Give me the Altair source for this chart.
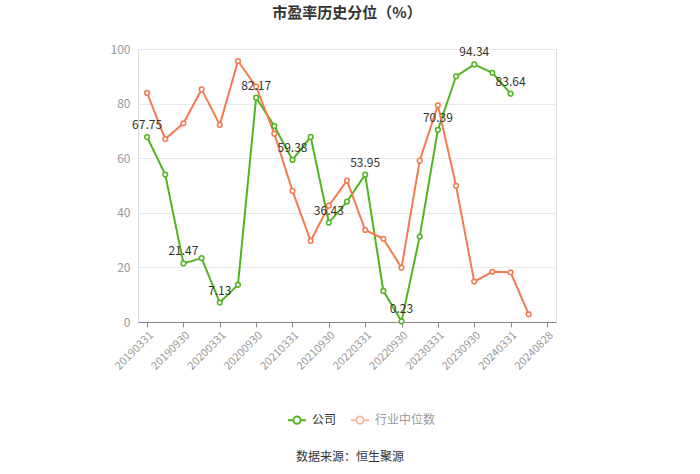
import altair as alt
import pandas as pd

dates = ["20190331", "20190630", "20190930", "20191231", "20200331", "20200630",
         "20200930", "20201231", "20210331", "20210630", "20210930", "20211231",
         "20220331", "20220630", "20220930", "20221231", "20230331", "20230630",
         "20230930", "20231231", "20240331", "20240630", "20240828"]
company = [67.75, 54.0, 21.47, 23.4, 7.13, 13.6, 82.17, 71.8, 59.38, 67.8, 36.43, 44.1,
           53.95, 11.4, 0.23, 31.3, 70.39, 90.0, 94.34, 91.3, 83.64, None, None]
industry = [83.9, 67.0, 72.8, 85.2, 72.2, 95.6, 86.2, 69.0, 48.0, 29.7, 42.6, 51.8,
            33.7, 30.5, 19.9, 59.1, 79.4, 49.9, 14.8, 18.4, 18.2, 2.8, None]
series_names = ["公司", "行业中位数"]
series_colors = ["#52b41f", "#f47a50"]
axis_dates = dates[0::2]
label_idx = list(range(0, 21, 2))

rows = []
for i, d in enumerate(dates):
    rows.append({"date": d, "series": "公司", "value": company[i]})
    rows.append({"date": d, "series": "行业中位数", "value": industry[i]})
df = pd.DataFrame(rows)
df = df.dropna(subset=["value"])

lab = pd.DataFrame({"date": [dates[i] for i in label_idx],
                    "value": [company[i] for i in label_idx]})

FONT = "Noto Sans CJK SC"

x_enc = alt.X("date:O", sort=dates,
              scale=alt.Scale(type="point", domain=dates, padding=0.5),
              axis=alt.Axis(title=None, values=axis_dates, labelAngle=-45,
                            labelColor="#999", labelFontSize=11, labelFont=FONT,
                            domainColor="#888", tickColor="#888", tickSize=5,
                            labelPadding=2, grid=False))
y_enc = alt.Y("value:Q", scale=alt.Scale(domain=[0, 100], nice=False),
              axis=alt.Axis(title=None, values=[0, 20, 40, 60, 80, 100],
                            labelColor="#999", labelFontSize=12, labelFont=FONT,
                            domain=False, ticks=False, gridColor="#eaeaea",
                            labelPadding=8))

path = "M-1,0L-0.4,0M0.4,0L1,0M-0.4,0A0.4,0.4,0,1,1,0.4,0A0.4,0.4,0,1,1,-0.4,0"

stroke_enc = alt.Stroke("series:N", sort=series_names,
                        scale=alt.Scale(domain=series_names, range=series_colors),
                        legend=alt.Legend(title=None, orient="none", direction="horizontal",
                                          legendX=149, legendY=361,
                                          symbolType=path, symbolSize=324,
                                          symbolStrokeWidth=2, symbolFillColor="white",
                                          symbolOpacity={"expr": "datum.value === '公司' ? 1 : 0.5"},
                                          labelColor={"expr": "datum.value === '公司' ? '#333' : '#999'"},
                                          labelFont=FONT, labelFontSize=12,
                                          labelOffset=5, columnPadding=10))

base = alt.Chart(df)
lines = base.mark_line(strokeWidth=2).encode(x=x_enc, y=y_enc, stroke=stroke_enc)
points = base.mark_point(shape="circle", filled=True, fill="white", size=22,
                         strokeWidth=1.5, opacity=1).encode(x=x_enc, y=y_enc, stroke=stroke_enc)
labels = alt.Chart(lab).mark_text(dy=-12, fontSize=12, color="#333", font=FONT).encode(
    x=alt.X("date:O", sort=dates), y="value:Q", text=alt.Text("value:Q", format=".2f"))
source = alt.Chart(pd.DataFrame({"t": ["数据来源：恒生聚源"]})).mark_text(
    fontSize=12, color="#333", font=FONT).encode(
    x=alt.value(212), y=alt.value(408), text="t:N")

chart = alt.layer(lines, points, labels, source).properties(
    width=418, height=273,
    autosize="none",
    padding={"left": 138, "top": 49, "right": 144, "bottom": 152},
    title=alt.TitleParams("市盈率历史分位（%）", font=FONT, fontSize=15, fontWeight="bold",
                          color="#333", anchor="middle", offset=22),
).configure_view(stroke=None).configure(background="white")

chart.save("out.html", embed_options={"renderer": "svg", "actions": False})
